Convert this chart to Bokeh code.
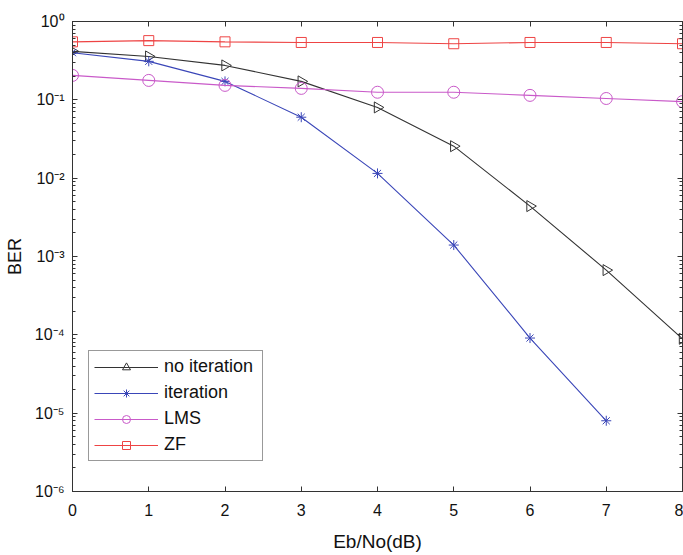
import math
from bokeh.plotting import figure
from bokeh.models import (FixedTicker, LinearAxis, LogAxis, Legend, LegendItem, Range1d,
                          CustomJSTickFormatter)
from bokeh.embed import file_html
from bokeh.resources import INLINE

# ---- data ----
snr_db = [0, 1, 2, 3, 4, 5, 6, 7, 8]
ber_no_iteration = [0.415, 0.358, 0.275, 0.172, 0.080, 0.0256, 0.0044, 6.7e-4, 8.9e-5]
snr_iteration = [0, 1, 2, 3, 4, 5, 6, 7]
ber_iteration = [0.40, 0.31, 0.172, 0.060, 0.0115, 0.0014, 9.1e-5, 8.0e-6]
ber_lms = [0.205, 0.177, 0.153, 0.140, 0.125, 0.125, 0.114, 0.104, 0.095]
ber_zf = [0.55, 0.57, 0.55, 0.54, 0.54, 0.52, 0.54, 0.54, 0.52]

x_ticks = [0, 1, 2, 3, 4, 5, 6, 7, 8]
y_exponents = [0, -1, -2, -3, -4, -5, -6]
series_names = ["no iteration", "iteration", "LMS", "ZF"]

FONT = "Liberation Sans"
AX = "#333333"
TXT = "#111111"

SUP = str.maketrans("-0123456789", "⁻⁰¹²³⁴⁵⁶⁷⁸⁹")
y_major = [10.0 ** e for e in y_exponents]
y_minor = [m * 10.0 ** e for e in y_exponents[1:] for m in range(2, 10)]
y_labels = {10.0 ** e: "10" + str(e).translate(SUP) for e in y_exponents}


def blank():
    return CustomJSTickFormatter(code="return ''")


p = figure(width=683, height=555, output_backend="svg", toolbar_location=None,
           y_axis_type="log", x_range=Range1d(0, 8), y_range=Range1d(1e-6, 1),
           min_border_left=72, min_border_right=1, min_border_top=21, min_border_bottom=64)
p.grid.visible = False
p.outline_line_color = AX
p.background_fill_color = "white"
p.border_fill_color = "white"

# bottom axis
xa = p.xaxis[0]
xa.ticker = FixedTicker(ticks=x_ticks)
xa.major_tick_in = 5
xa.major_tick_out = 0
xa.minor_tick_line_color = None
xa.axis_line_color = AX
xa.major_tick_line_color = AX
xa.major_label_text_font = FONT
xa.major_label_text_font_size = "16px"
xa.major_label_text_color = TXT
xa.major_label_standoff = 12
xa.axis_label = "Eb/No(dB)"
xa.axis_label_text_font = FONT
xa.axis_label_text_font_style = "normal"
xa.axis_label_text_font_size = "19px"
xa.axis_label_text_color = TXT
xa.axis_label_standoff = 12

# left axis
ya = p.yaxis[0]
ya.ticker = FixedTicker(ticks=y_major, minor_ticks=y_minor)
ya.major_label_overrides = y_labels
ya.major_tick_in = 5
ya.major_tick_out = 0
ya.minor_tick_in = 3
ya.minor_tick_out = 0
ya.axis_line_color = AX
ya.major_tick_line_color = AX
ya.minor_tick_line_color = AX
ya.major_label_text_font = FONT
ya.major_label_text_font_size = "16px"
ya.major_label_text_color = TXT
ya.major_label_standoff = 8
ya.axis_label = "BER"
ya.axis_label_text_font = FONT
ya.axis_label_text_font_style = "normal"
ya.axis_label_text_font_size = "18px"
ya.axis_label_text_color = TXT
ya.axis_label_standoff = 7

# top and right box axes
top = LinearAxis(ticker=FixedTicker(ticks=x_ticks), formatter=blank(), major_tick_in=5,
                 major_tick_out=0, minor_tick_line_color=None,
                 axis_line_color=AX, major_tick_line_color=AX)
p.add_layout(top, "above")
right = LogAxis(ticker=FixedTicker(ticks=y_major, minor_ticks=y_minor), formatter=blank(),
                major_tick_in=5, major_tick_out=0, minor_tick_in=3, minor_tick_out=0,
                axis_line_color=AX, major_tick_line_color=AX, minor_tick_line_color=AX)
p.add_layout(right, "right")

c_black = "#333333"
c_blue = "#3a46b8"
c_mag = "#c95ac9"
c_red = "#ee4444"

l1 = p.line(snr_db, ber_no_iteration, line_color=c_black, line_width=1.1)
m1 = p.scatter(snr_db, ber_no_iteration, marker="triangle", angle=-math.pi / 2, size=11,
               fill_color=None, line_color=c_black, line_width=1)
l2 = p.line(snr_iteration, ber_iteration, line_color=c_blue, line_width=1.1)
m2 = p.scatter(snr_iteration, ber_iteration, marker="asterisk", size=10,
               line_color=c_blue, line_width=1)
l3 = p.line(snr_db, ber_lms, line_color=c_mag, line_width=1.1)
m3 = p.scatter(snr_db, ber_lms, marker="circle", size=12, fill_color=None,
               line_color=c_mag, line_width=1)
l4 = p.line(snr_db, ber_zf, line_color=c_red, line_width=1.1)
m4 = p.scatter(snr_db, ber_zf, marker="square", size=10, fill_color=None,
               line_color=c_red, line_width=1)

legend = Legend(items=[LegendItem(label=series_names[0], renderers=[l1, m1]),
                       LegendItem(label=series_names[1], renderers=[l2, m2]),
                       LegendItem(label=series_names[2], renderers=[l3, m3]),
                       LegendItem(label=series_names[3], renderers=[l4, m4])],
                location=(16, 30), padding=5, spacing=5, glyph_height=20, label_height=20,
                glyph_width=64, label_standoff=6, label_width=93, label_text_font=FONT,
                label_text_font_size="18px", label_text_color=TXT,
                border_line_color=AX, border_line_width=1, background_fill_alpha=1,
                margin=0)
p.add_layout(legend)

open("out.html", "w").write(file_html(p, INLINE))
